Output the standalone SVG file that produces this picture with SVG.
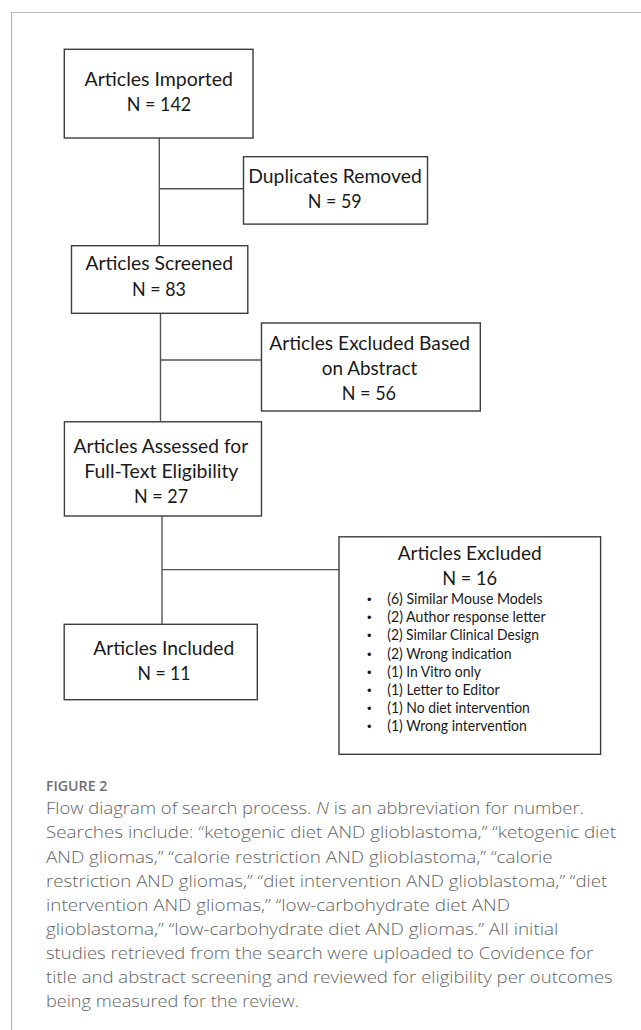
<svg xmlns="http://www.w3.org/2000/svg" width="641" height="1030" viewBox="0 0 641 1030">
<style>
.box{fill:#fff;stroke:#3c3c3c;stroke-width:1.4}
.t{font-family:Lato,"Liberation Sans",sans-serif;font-size:20px;fill:#1a1a1a;text-anchor:middle}
.b{font-family:Lato,"Liberation Sans",sans-serif;font-size:14.5px;fill:#1a1a1a}
.dot{font-family:"Liberation Sans",sans-serif;font-size:13px;fill:#1a1a1a;text-anchor:middle}
.c{font-family:"Open Sans","Liberation Sans",sans-serif;font-size:16px;font-weight:300;fill:#646464}
.fig{font-family:"Open Sans","Liberation Sans",sans-serif;font-size:13.5px;font-weight:600;fill:#707070}
.ln{stroke:#555;stroke-width:1.4;fill:none}
</style>
<rect width="641" height="1030" fill="#fff"/>
<path d="M11.5,1030 V12.5 H641" fill="none" stroke="#b8b8b8" stroke-width="1.2"/>
<g id="connectors">
<path class="ln" d="M159.3,138 V245.7 M159.3,188.7 H243.5"/>
<path class="ln" d="M160.5,313.3 V422 M160.5,360 H261.5"/>
<path class="ln" d="M162,516 V624.3 M162,569.6 H339"/>
</g>
<g id="imported">
<rect class="box" x="64.3" y="49.3" width="188.7" height="88.7"/>
<text class="t" x="158.8" y="86" textLength="148.4" lengthAdjust="spacingAndGlyphs">Articles Imported</text>
<text class="t" x="159" y="111" textLength="64.6" lengthAdjust="spacingAndGlyphs">N = 142</text>
</g>
<g id="duplicates">
<rect class="box" x="243.5" y="156.7" width="184" height="67.4"/>
<text class="t" x="335" y="183" textLength="173.4" lengthAdjust="spacingAndGlyphs">Duplicates Removed</text>
<text class="t" x="334.7" y="207.7" textLength="54" lengthAdjust="spacingAndGlyphs">N = 59</text>
</g>
<g id="screened">
<rect class="box" x="71.5" y="245.7" width="176.3" height="67.6"/>
<text class="t" x="159.2" y="270" textLength="147.6" lengthAdjust="spacingAndGlyphs">Articles Screened</text>
<text class="t" x="159" y="295.7" textLength="54" lengthAdjust="spacingAndGlyphs">N = 83</text>
</g>
<g id="excluded-abstract">
<rect class="box" x="261.5" y="323" width="218.8" height="88"/>
<text class="t" x="369.7" y="350" textLength="200.7" lengthAdjust="spacingAndGlyphs">Articles Excluded Based</text>
<text class="t" x="369.5" y="375" textLength="95.6" lengthAdjust="spacingAndGlyphs">on Abstract</text>
<text class="t" x="368.9" y="400" textLength="54.3" lengthAdjust="spacingAndGlyphs">N = 56</text>
</g>
<g id="assessed">
<rect class="box" x="64.4" y="421.8" width="197.1" height="94.2"/>
<text class="t" x="160.9" y="453" textLength="174.6" lengthAdjust="spacingAndGlyphs">Articles Assessed for</text>
<text class="t" x="161.3" y="477.8" textLength="154.2" lengthAdjust="spacingAndGlyphs">Full-Text Eligibility</text>
<text class="t" x="161.1" y="503" textLength="54" lengthAdjust="spacingAndGlyphs">N = 27</text>
</g>
<g id="excluded">
<rect class="box" x="339" y="536.8" width="261.6" height="217.5"/>
<text class="t" x="469.7" y="559.5" textLength="144" lengthAdjust="spacingAndGlyphs">Articles Excluded</text>
<text class="t" x="469.7" y="585" textLength="54.7" lengthAdjust="spacingAndGlyphs">N = 16</text>
<text class="dot" x="369.2" y="603.8">•</text>
<text class="dot" x="369.2" y="622.1">•</text>
<text class="dot" x="369.2" y="640.4">•</text>
<text class="dot" x="369.2" y="658.6">•</text>
<text class="dot" x="369.2" y="676.8">•</text>
<text class="dot" x="369.2" y="695">•</text>
<text class="dot" x="369.2" y="713">•</text>
<text class="dot" x="369.2" y="731.3">•</text>
<text class="b" x="387.2" y="603.8" textLength="155.3" lengthAdjust="spacingAndGlyphs">(6) Similar Mouse Models</text>
<text class="b" x="387.2" y="622.1" textLength="158.4" lengthAdjust="spacingAndGlyphs">(2) Author response letter</text>
<text class="b" x="387.2" y="640.4" textLength="151.7" lengthAdjust="spacingAndGlyphs">(2) Similar Clinical Design</text>
<text class="b" x="387.2" y="658.6" textLength="124.4" lengthAdjust="spacingAndGlyphs">(2) Wrong indication</text>
<text class="b" x="387.2" y="676.8" textLength="93.7" lengthAdjust="spacingAndGlyphs">(1) In Vitro only</text>
<text class="b" x="387.2" y="695" textLength="112.4" lengthAdjust="spacingAndGlyphs">(1) Letter to Editor</text>
<text class="b" x="387.2" y="713" textLength="142.7" lengthAdjust="spacingAndGlyphs">(1) No diet intervention</text>
<text class="b" x="387.2" y="731.3" textLength="139.7" lengthAdjust="spacingAndGlyphs">(1) Wrong intervention</text>
</g>
<g id="included">
<rect class="box" x="64.2" y="624.3" width="193.1" height="75.4"/>
<text class="t" x="163.7" y="654.5" textLength="141.1" lengthAdjust="spacingAndGlyphs">Articles Included</text>
<text class="t" x="164" y="680" textLength="53.1" lengthAdjust="spacingAndGlyphs">N = 11</text>
</g>
<g id="caption">
<text class="fig" x="46" y="790.7" textLength="61.3" lengthAdjust="spacingAndGlyphs">FIGURE 2</text>
<text class="c" x="46" y="814.3" textLength="538" lengthAdjust="spacingAndGlyphs">Flow diagram of search process. <tspan font-style="italic">N</tspan> is an abbreviation for number.</text>
<text class="c" x="46" y="838.4" textLength="570" lengthAdjust="spacingAndGlyphs">Searches include: “ketogenic diet AND glioblastoma,” “ketogenic diet</text>
<text class="c" x="46" y="862.5" textLength="506.7" lengthAdjust="spacingAndGlyphs">AND gliomas,” “calorie restriction AND glioblastoma,” “calorie</text>
<text class="c" x="46" y="886.6" textLength="561.3" lengthAdjust="spacingAndGlyphs">restriction AND gliomas,” “diet intervention AND glioblastoma,” “diet</text>
<text class="c" x="46" y="910.7" textLength="464" lengthAdjust="spacingAndGlyphs">intervention AND gliomas,” “low-carbohydrate diet AND</text>
<text class="c" x="46" y="934.8" textLength="512.3" lengthAdjust="spacingAndGlyphs">glioblastoma,” “low-carbohydrate diet AND gliomas.” All initial</text>
<text class="c" x="46" y="958.9" textLength="547.3" lengthAdjust="spacingAndGlyphs">studies retrieved from the search were uploaded to Covidence for</text>
<text class="c" x="46" y="983" textLength="566.7" lengthAdjust="spacingAndGlyphs">title and abstract screening and reviewed for eligibility per outcomes</text>
<text class="c" x="46" y="1007.1" textLength="253" lengthAdjust="spacingAndGlyphs">being measured for the review.</text>
</g>
</svg>
